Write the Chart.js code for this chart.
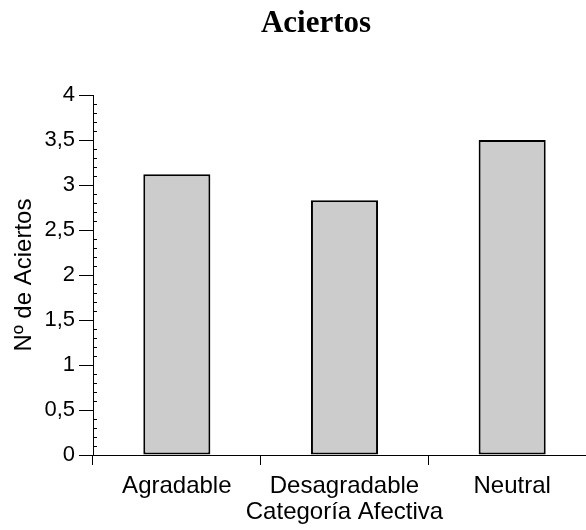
<!DOCTYPE html>
<html>
<head>
<meta charset="utf-8">
<script src="https://cdn.jsdelivr.net/npm/chart.js@4/dist/chart.umd.min.js"></script>
<style>
  html, body { margin: 0; padding: 0; background: #fff; }
  #wrap { width: 586px; height: 530px; overflow: hidden; position: relative; }
  canvas { display: block; }
</style>
</head>
<body>
<div id="wrap"><canvas id="c" width="632" height="530"></canvas></div>
<script>
const categories = ["Agradable", "Desagradable", "Neutral"];
const aciertos = [3.12, 2.83, 3.5];
const yTicks = [0, 0.5, 1, 1.5, 2, 2.5, 3, 3.5, 4];
const minorStep = 0.1;

const minorTicks = {
  id: 'minorTicks',
  afterLayout(chart) {
    // centre the title over the full (wider-than-view) canvas
    if (chart.titleBlock) { chart.titleBlock.left = 0; chart.titleBlock.right = chart.width; }
  },
  afterDraw(chart) {
    const s = chart.scales.y;
    const ctx = chart.ctx;
    ctx.save();
    ctx.strokeStyle = '#000';
    ctx.lineWidth = 1;
    ctx.beginPath();
    const n = Math.round((s.max - s.min) / minorStep);
    for (let i = 0; i <= n; i++) {
      const v = s.min + i * minorStep;
      if (Math.abs(v * 2 - Math.round(v * 2)) < 1e-6) continue;
      const py = Math.round(s.getPixelForValue(v)) + 0.5;
      ctx.moveTo(s.right, py);
      ctx.lineTo(s.right + 4, py);
    }
    ctx.stroke();
    ctx.restore();
  }
};

new Chart(document.getElementById('c'), {
  type: 'bar',
  data: {
    labels: categories,
    datasets: [{
      data: aciertos,
      backgroundColor: '#cccccc',
      borderColor: '#000000',
      borderWidth: 2,
      borderSkipped: false,
      categoryPercentage: 1.0,
      barPercentage: 0.4
    }]
  },
  options: {
    responsive: false,
    animation: false,
    devicePixelRatio: 1,
    layout: { padding: { left: 0, right: 36, top: 0, bottom: 0 } },
    plugins: {
      legend: { display: false },
      tooltip: { enabled: false },
      title: {
        display: true,
        text: 'Aciertos',
        color: '#000',
        font: { family: '"Liberation Serif", "Times New Roman", serif', size: 31, weight: 'bold', lineHeight: 1.2 },
        padding: { top: 5, bottom: 52.8 }
      }
    },
    scales: {
      x: {
        grid: { display: true, drawOnChartArea: false, drawTicks: true, tickLength: 10, color: '#000', offset: true },
        border: { display: true, color: '#000', width: 1 },
        ticks: { color: '#000', font: { family: '"Liberation Sans", Arial, sans-serif', size: 24 }, padding: 7, maxRotation: 0 },
        title: {
          display: true, text: 'Categoría Afectiva', color: '#000',
          font: { family: '"Liberation Sans", Arial, sans-serif', size: 24, lineHeight: 1.2 },
          padding: { top: 0, bottom: 3.5 }
        },
        afterFit(scale) { scale.height = 75; }
      },
      y: {
        min: 0, max: 4,
        afterBuildTicks(scale) { scale.ticks = yTicks.map(v => ({ value: v })); },
        grid: { display: true, drawOnChartArea: false, drawTicks: true, tickLength: 14, color: '#000' },
        border: { display: true, color: '#000', width: 1 },
        ticks: {
          color: '#000',
          font: { family: '"Liberation Sans", Arial, sans-serif', size: 22 },
          padding: 4,
          callback: (v) => String(v).replace('.', ',')
        },
        title: {
          display: true, text: 'Nº de Aciertos', color: '#000',
          font: { family: '"Liberation Sans", Arial, sans-serif', size: 24, lineHeight: 1.2 },
          padding: { top: 9.5, bottom: 0 }
        },
        afterFit(scale) { scale.width = 93; }
      }
    }
  },
  plugins: [minorTicks]
});
</script>
</body>
</html>
